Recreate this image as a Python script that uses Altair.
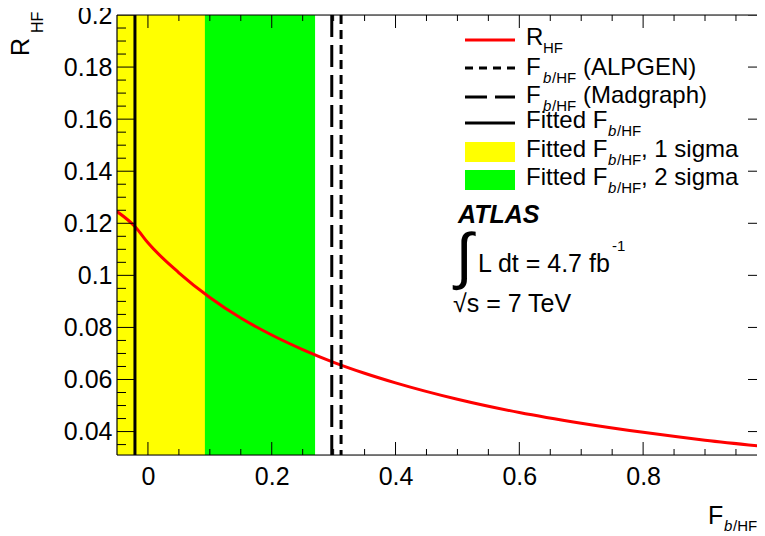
import altair as alt
import pandas as pd

# ---- data ----
curve_x = [-0.05, -0.02, 0.0, 0.05, 0.1, 0.15, 0.2, 0.25, 0.3, 0.35, 0.4, 0.5, 0.6, 0.7, 0.8, 0.9, 1.0]
curve_r = [0.1245, 0.1185, 0.1125, 0.1010, 0.0915, 0.0836, 0.0771, 0.0715, 0.0666, 0.0624, 0.0587,
           0.0524, 0.0473, 0.0432, 0.0397, 0.0367, 0.0342]

fitted_f = [-0.021]
alpgen_f = [0.312]
madgraph_f = [0.297]
one_sigma = [-0.134, 0.092]
two_sigma = [-0.312, 0.270]

x_major = [0.0, 0.2, 0.4, 0.6, 0.8, 1.0]
x_minor = [0.05, 0.1, 0.15, 0.25, 0.3, 0.35, 0.45, 0.5, 0.55, 0.65, 0.7, 0.75, 0.85, 0.9, 0.95]
y_major = [0.04, 0.06, 0.08, 0.1, 0.12, 0.14, 0.16, 0.18, 0.2]
y_minor = [0.035, 0.045, 0.05, 0.055, 0.065, 0.07, 0.075, 0.085, 0.09, 0.095, 0.105, 0.11, 0.115,
           0.125, 0.13, 0.135, 0.145, 0.15, 0.155, 0.165, 0.17, 0.175, 0.185, 0.19, 0.195]

W, H = 640, 440
FONT = "Liberation Sans"

xs = alt.Scale(domain=[-0.05, 0.984], nice=False, zero=False)
ys = alt.Scale(domain=[0.031, 0.2], nice=False, zero=False)

XAX = alt.Axis(values=x_major, format="~g", labelFontSize=25, labelFont=FONT, labelColor="black",
               ticks=False, domain=False, grid=False, labelPadding=9, labelFlush=False,
               labelOverlap=False, labelBound=False, title=None)
YAX = alt.Axis(values=y_major, format="~g", labelFontSize=25, labelFont=FONT, labelColor="black",
               ticks=False, domain=False, grid=False, labelPadding=5, labelFlush=False,
               labelOverlap=False, labelBound=False, title=None)

curve_df = pd.DataFrame({"x": curve_x, "r": curve_r})

bands = pd.DataFrame({
    "lo": [two_sigma[0], one_sigma[0]],
    "hi": [two_sigma[1], one_sigma[1]],
    "band": ["2 sigma", "1 sigma"],
})
band_layer = alt.Chart(bands).mark_rect(clip=True).encode(
    x=alt.X("lo:Q", scale=xs, axis=XAX),
    x2="hi:Q",
    y=alt.value(0),
    y2=alt.value(H),
    color=alt.Color("band:N", scale=alt.Scale(domain=["2 sigma", "1 sigma"], range=["#00ff00", "#ffff00"]), legend=None),
    order=alt.Order("band:N", sort="descending"),
)

curve_layer = alt.Chart(curve_df).mark_line(color="#ff0000", strokeWidth=3, interpolate="monotone", clip=True).encode(
    x=alt.X("x:Q", scale=xs, axis=XAX),
    y=alt.Y("r:Q", scale=ys, axis=YAX),
)


def vline(vals, dash):
    kw = dict(color="black", strokeWidth=3)
    if dash:
        kw["strokeDash"] = dash
    return alt.Chart(pd.DataFrame({"f": vals})).mark_rule(**kw).encode(
        x=alt.X("f:Q", scale=xs, axis=XAX), y=alt.value(0), y2=alt.value(H))


fit_layer = vline(fitted_f, None)
mad_layer = vline(madgraph_f, [22, 8])
alp_layer = vline(alpgen_f, [9, 6])


def xticks(vals, y0, y1):
    return alt.Chart(pd.DataFrame({"t": vals})).mark_rule(color="black", strokeWidth=1, clip=True).encode(
        x=alt.X("t:Q", scale=xs, axis=XAX), y=alt.value(y0), y2=alt.value(y1))


def yticks(vals, x0, x1):
    return alt.Chart(pd.DataFrame({"t": vals})).mark_rule(color="black", strokeWidth=1, clip=True).encode(
        y=alt.Y("t:Q", scale=ys, axis=YAX), x=alt.value(x0), x2=alt.value(x1))


RIGHT = W + 9  # the frame's right edge lies just outside the visible area
tick_layers = [
    xticks(x_major, H, H - 13), xticks(x_minor, H, H - 6),
    xticks(x_major, 0, 13), xticks(x_minor, 0, 6),
    yticks(y_major, 0, 18), yticks(y_minor, 0, 9),
    yticks(y_major, RIGHT, RIGHT - 18), yticks(y_minor, RIGHT, RIGHT - 9),
]

one = pd.DataFrame({"k": [0]})


def txt(s, x, y, size=24, style="normal", weight="normal", angle=0, align="left", baseline="alphabetic"):
    return alt.Chart(one).mark_text(text=s, font=FONT, fontSize=size, fontStyle=style, fontWeight=weight,
                                    angle=angle, align=align, baseline=baseline, color="black").encode(
        x=alt.value(x), y=alt.value(y))


def seg(x0, x1, y, color="black", dash=None, width=3):
    kw = dict(color=color, strokeWidth=width)
    if dash:
        kw["strokeDash"] = dash
    return alt.Chart(one).mark_rule(**kw).encode(x=alt.value(x0), x2=alt.value(x1), y=alt.value(y))


def vseg(x, y0, y1, width=1.2):
    return alt.Chart(one).mark_rule(color="black", strokeWidth=width).encode(
        x=alt.value(x), y=alt.value(y0), y2=alt.value(y1))


def box(x0, x1, y0, y1, color):
    return alt.Chart(one).mark_rect(color=color).encode(
        x=alt.value(x0), x2=alt.value(x1), y=alt.value(y0), y2=alt.value(y1))


frame_layers = [
    seg(0, W, 0, width=1.2), seg(0, W, H, width=1.2), vseg(0, 0, H),
]

LX0, LX1, TX = 348, 398, 409
SUBX, SUB2X = 426, 491
legend_layers = [
    seg(LX0, LX1, 25, color="#ff0000"),
    txt("R", TX, 30), txt("HF", SUBX, 38, size=15),

    seg(LX0, LX1, 53, dash=[8, 6]),
    txt("F", TX, 60), txt("b", SUBX, 68, size=15, style="italic"), txt("/HF", SUBX + 9, 68, size=15),
    txt("(ALPGEN)", 466, 60),

    seg(LX0, LX1, 82, dash=[22, 8]),
    txt("F", TX, 88), txt("b", SUBX, 96, size=15, style="italic"), txt("/HF", SUBX + 9, 96, size=15),
    txt("(Madgraph)", 466, 88),

    seg(LX0, LX1, 108),
    txt("Fitted F", TX, 113), txt("b", SUB2X, 121, size=15, style="italic"), txt("/HF", SUB2X + 9, 121, size=15),

    box(LX0, LX1, 127, 147, "#ffff00"),
    txt("Fitted F", TX, 142), txt("b", SUB2X, 150, size=15, style="italic"), txt("/HF", SUB2X + 9, 150, size=15),
    txt(", 1 sigma", 524, 142),

    box(LX0, LX1, 155, 175, "#00ff00"),
    txt("Fitted F", TX, 170), txt("b", SUB2X, 178, size=15, style="italic"), txt("/HF", SUB2X + 9, 178, size=15),
    txt(", 2 sigma", 524, 170),

    # ATLAS label
    txt("ATLAS", 341, 208, size=25, style="italic", weight="bold"),
    txt("\u222b", 347, 243, size=62, align="center", baseline="middle", weight="normal"),
    txt("L dt = 4.7 fb", 361, 257, size=25),
    txt("-1", 495, 236, size=15),
    txt("\u221as = 7 TeV", 336, 297, size=25),

    # axis titles
    txt("F", 591, 509, size=25), txt("b", 607, 516, size=15, style="italic"), txt("/HF", 616, 516, size=15),
    txt("R", -88, 41, size=25, angle=270), txt("HF", -74, 18, size=16, angle=270),
]

chart = alt.layer(
    band_layer, curve_layer, fit_layer, mad_layer, alp_layer, *tick_layers, *frame_layers, *legend_layers
).properties(
    width=W, height=H,
    autosize=alt.AutoSizeParams(type="none"),
    padding={"left": 109, "top": 7, "right": 0, "bottom": 81},
).configure_view(stroke=None).configure(background="white")

chart.save("out.html", embed_options={"renderer": "svg", "actions": False})
